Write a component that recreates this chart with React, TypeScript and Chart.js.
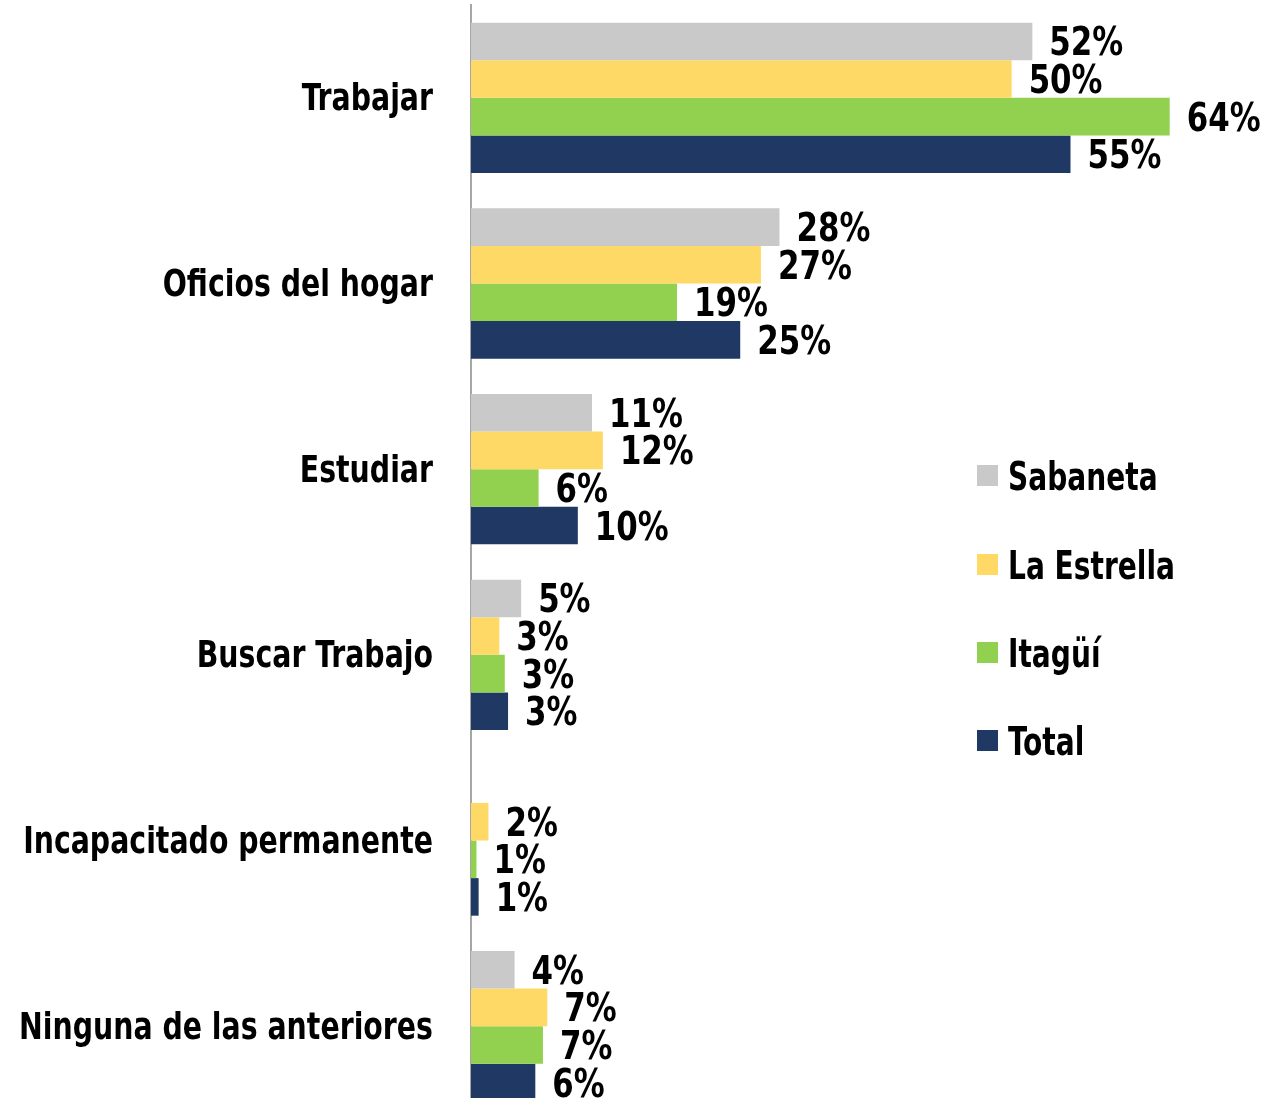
import React, { useEffect, useRef } from "react";
import { Chart, registerables } from "chart.js";

Chart.register(...registerables);

const categories = [
  "Trabajar",
  "Oficios del hogar",
  "Estudiar",
  "Buscar Trabajo",
  "Incapacitado permanente",
  "Ninguna de las anteriores",
];
const seriesNames = ["Sabaneta", "La Estrella", "Itagüí", "Total"];
const sabaneta: (number | null)[] = [51.5, 28.3, 11.1, 4.6, null, 4.0];
const laEstrella: (number | null)[] = [49.6, 26.6, 12.1, 2.6, 1.6, 7.0];
const itagui: (number | null)[] = [64.1, 18.9, 6.2, 3.1, 0.5, 6.6];
const total: (number | null)[] = [55.0, 24.7, 9.8, 3.4, 0.7, 5.9];
const colors = ["#C9C9C9", "#FFD966", "#92D050", "#203864"];

const FONT = '"DejaVu Sans Condensed", "DejaVu Sans", sans-serif';

function drawText(ctx: CanvasRenderingContext2D, text: string, x: number, y: number, size: number, sx: number, align: CanvasTextAlign) {
  ctx.save();
  ctx.translate(x, y);
  ctx.scale(sx, 1);
  ctx.font = `bold ${size}px ${FONT}`;
  ctx.fillStyle = "#000";
  ctx.textAlign = align;
  ctx.textBaseline = "alphabetic";
  ctx.fillText(text, 0, 0);
  ctx.restore();
}

export default function App() {
  const ref = useRef<HTMLCanvasElement | null>(null);
  useEffect(() => {
    if (!ref.current) return;
    const textPlugin = {
      id: "textPlugin",
      afterDraw(chart: any) {
        const ctx = chart.ctx;
        // value labels
        chart.data.datasets.forEach((ds: any, di: number) => {
          const meta = chart.getDatasetMeta(di);
          meta.data.forEach((bar: any, i: number) => {
            const v = ds.data[i];
            if (v === null || v === undefined) return;
            drawText(ctx, Math.round(v) + "%", bar.x + 17, bar.y + 14, 39, 0.88, "left");
          });
        });
        // category labels
        const yScale = chart.scales.y;
        categories.forEach((c, i) => {
          const y = yScale.getPixelForValue(i);
          drawText(ctx, c, 433, y + 12.5, 38, 0.83, "right");
        });
        // legend
        const tops = [465, 554, 642, 730];
        seriesNames.forEach((n, i) => {
          ctx.save();
          ctx.fillStyle = colors[i];
          ctx.fillRect(977, tops[i], 21, 21);
          ctx.restore();
          drawText(ctx, n, 1008, tops[i] + 24.5, 39, 0.8, "left");
        });
      },
    };
    const data = [sabaneta, laEstrella, itagui, total];
    const chart = new Chart(ref.current, {
      type: "bar",
      data: {
        labels: categories,
        datasets: seriesNames.map((n, i) => ({
          label: n,
          data: data[i],
          backgroundColor: colors[i],
          borderWidth: 0,
          categoryPercentage: 0.81,
          barPercentage: 1.0,
        })),
      },
      options: {
        indexAxis: "y",
        animation: false,
        responsive: false,
        maintainAspectRatio: false,
        layout: { padding: { top: 5, bottom: 6, left: 0, right: 34 } },
        plugins: {
          legend: { display: false },
          tooltip: { enabled: false },
        },
        scales: {
          x: { display: false, min: 0, max: 70 },
          y: {
            grid: { display: false, drawTicks: false },
            border: { display: true, color: "#A6A6A6", width: 2 },
            ticks: { display: false },
            afterFit(scale: any) {
              scale.width = 471;
              scale.paddingTop = 0;
              scale.paddingBottom = 0;
            },
          },
        },
      },
      plugins: [textPlugin],
    } as any);
    return () => chart.destroy();
  }, []);
  return (
    <div style={{ position: "fixed", left: 0, top: 0, width: 1268, height: 1098, overflow: "hidden", background: "#fff" }}>
      <canvas ref={ref} width={1268} height={1125} style={{ display: "block" }} />
    </div>
  );
}
